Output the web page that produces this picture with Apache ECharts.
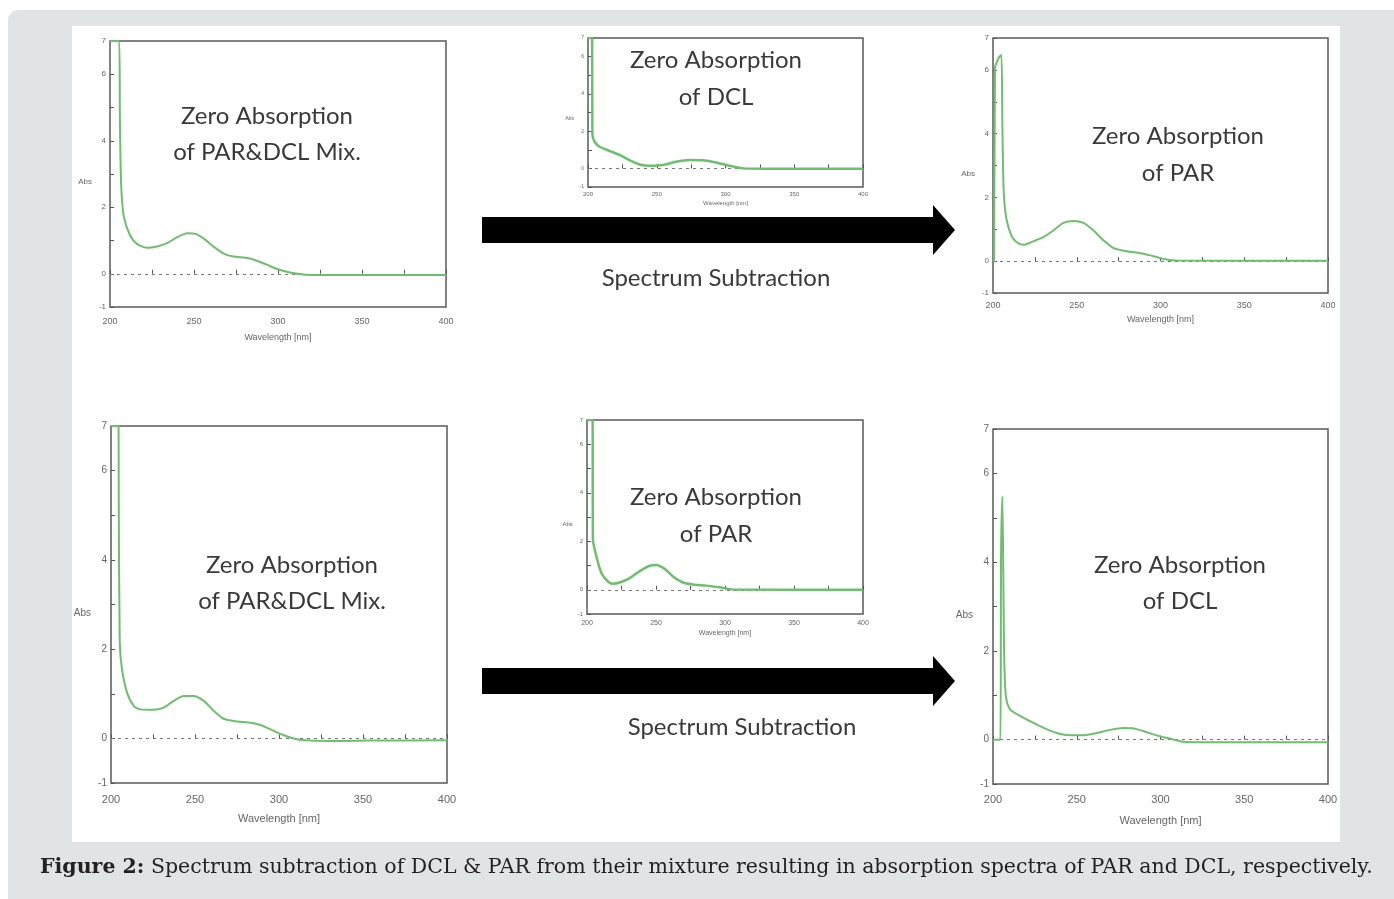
<!DOCTYPE html>
<html><head><meta charset="utf-8">
<script src="https://cdn.jsdelivr.net/npm/echarts@6/dist/echarts.min.js"></script>
<style>html,body{margin:0;padding:0;background:#fff}#c{width:1394px;height:899px}</style>
</head><body><div id="c"></div>
<script>
// Wavelength [nm], Abs pairs
const mixTop = [[200,7],[205.5,7],[205.9,4.6],[206.7,2.6],[208.3,1.7],[212,1.15],[216,0.9],[222,0.78],[228,0.82],[234,0.92],[240,1.1],[246,1.22],[251,1.2],[256,1.05],[262,0.8],[268,0.6],[273.5,0.52],[281,0.48],[287,0.4],[293,0.28],[299,0.15],[307,0.04],[315,-0.02],[323,-0.04],[360,-0.04],[400,-0.04]];
const dclTop = [[200,7],[203,7],[203.2,1.8],[204.8,1.43],[208.5,1.16],[216,0.93],[223,0.72],[230,0.45],[237.6,0.21],[245,0.14],[254.5,0.18],[264,0.36],[274,0.45],[283.6,0.43],[293,0.32],[303,0.14],[312.7,0],[330,-0.02],[400,-0.02]];
const parTop = [[200,0],[200.6,0.05],[201.2,6.1],[202,6.2],[203.6,6.4],[205,6.47],[205.6,4.26],[206.4,2.17],[208,1.33],[211,0.8],[214,0.6],[218,0.51],[224,0.62],[230,0.75],[236,0.96],[242,1.2],[248,1.26],[254,1.2],[260,0.96],[266,0.65],[272,0.41],[280,0.31],[288,0.25],[294,0.18],[302,0.07],[310,0.02],[400,0.01]];
const mixBottom = [[200,7],[204.5,7],[204.6,5.5],[205.2,2.16],[206.5,1.56],[209.5,1.03],[213.5,0.73],[217.5,0.65],[225.4,0.64],[231.3,0.69],[237.3,0.84],[243.3,0.95],[249.2,0.95],[255.2,0.84],[261,0.62],[267,0.44],[275,0.38],[283,0.35],[289,0.3],[295,0.2],[302.8,0.07],[310.7,-0.02],[318.7,-0.05],[334.5,-0.06],[354,-0.05],[400,-0.04]];
const parBottom = [[200,7],[204,7],[204.3,2.07],[206.8,1.38],[210.4,0.69],[215.2,0.34],[218.8,0.25],[223.7,0.3],[231,0.48],[238,0.76],[245.4,0.99],[250.2,1.02],[256.3,0.86],[262.3,0.55],[269.6,0.3],[276.8,0.22],[286.5,0.17],[296,0.1],[305.8,0.01],[400,0]];
const dclBottom = [[200,0],[204.4,0],[204.8,4.15],[205.6,5.48],[206.6,2.08],[207.6,1.0],[210,0.69],[214,0.58],[222,0.42],[230,0.27],[238,0.15],[246,0.1],[254,0.1],[262,0.15],[270,0.22],[278,0.26],[284,0.25],[290,0.19],[298,0.09],[306,0.02],[313.7,-0.05],[323.6,-0.06],[400,-0.06]];

const seriesData = [mixTop, dclTop, parTop, mixBottom, parBottom, dclBottom];
const panelTitles = [
  ['Zero Absorption','of PAR&DCL Mix.'],
  ['Zero Absorption','of DCL'],
  ['Zero Absorption','of PAR'],
  ['Zero Absorption','of PAR&DCL Mix.'],
  ['Zero Absorption','of PAR'],
  ['Zero Absorption','of DCL']
];
const xTickLabels = [200,250,300,350,400];
const yTickLabels = [-1,0,2,4,6,7];
const arrowText = 'Spectrum Subtraction';
const captionBold = 'Figure 2:';
const captionText = ' Spectrum subtraction of DCL & PAR from their mixture resulting in absorption spectra of PAR and DCL, respectively.';

// layout
const grids = [
  {left:110, top:41, width:336, height:266, fs:9, margin:10, nameGap:26, yGap:18, lw:2},
  {left:588, top:38, width:275, height:149, fs:6, margin:4, nameGap:13, yGap:14, lw:2.5},
  {left:993, top:38, width:335, height:255, fs:9, margin:8, nameGap:22, yGap:18, lw:2},
  {left:111, top:426, width:336, height:357, fs:11, margin:11, nameGap:30, yGap:20, lw:2},
  {left:587, top:420, width:276, height:194, fs:7, margin:6, nameGap:16, yGap:14, lw:2.5},
  {left:993, top:429, width:335, height:355, fs:11, margin:10, nameGap:31, yGap:20, lw:2}
];
const titlePos = [[267,116,152],[716,60,97],[1178,136,173],[292,565,601],[716,497,534],[1180,565,601]];

const green = '#6cc06c';
const option = {
  animation:false,
  backgroundColor:'#ffffff',
  grid: grids.map(g=>({left:g.left, top:g.top, width:g.width, height:g.height, show:true, borderColor:'#5a5a5a', borderWidth:1.5, backgroundColor:'transparent', containLabel:false})),
  xAxis: grids.map((g,i)=>({
    gridIndex:i, type:'value', min:200, max:400, interval:25,
    name:'Wavelength [nm]', nameLocation:'middle', nameGap:g.nameGap,
    nameTextStyle:{fontSize:g.fs, color:'#666', fontFamily:'Liberation Sans'},
    axisLine:{show:false}, splitLine:{show:false},
    axisTick:{show:true, inside:true, length:4, lineStyle:{color:'#555'}},
    axisLabel:{fontSize:g.fs, color:'#666', margin:g.margin, fontFamily:'Liberation Sans',
      formatter:v=>xTickLabels.includes(v)?String(v):''}
  })),
  yAxis: grids.map((g,i)=>({
    gridIndex:i, type:'value', min:-1, max:7, interval:1,
    name:'Abs', nameLocation:'middle', nameRotate:0, nameGap:g.yGap,
    nameTextStyle:{fontSize:g.fs-1, color:'#666', fontFamily:'Liberation Sans', verticalAlign:'top', padding:[4,0,0,0]},
    axisLine:{show:false}, splitLine:{show:false},
    axisTick:{show:true, inside:true, length:4, lineStyle:{color:'#555'}},
    axisLabel:{fontSize:g.fs-1, color:'#666', margin:4, fontFamily:'Liberation Sans',
      formatter:v=>yTickLabels.includes(v)?String(v):''}
  })),
  series: seriesData.map((d,i)=>({
    type:'line', xAxisIndex:i, yAxisIndex:i, data:d, showSymbol:false, smooth:0.25,
    clip:true, lineStyle:{color:green, width:grids[i].lw}, z:3,
    markLine:{silent:true, symbol:'none', label:{show:false},
      lineStyle:{color:'#777', type:[3,4], width:1}, data:[{yAxis:0}], z:2}
  })),
  graphic: []
};

// background frame
option.graphic.push({type:'rect', z:-10, silent:true, shape:{x:8,y:10,width:1400,height:900,r:10}, style:{fill:'#e1e4e5'}});
option.graphic.push({type:'rect', z:-9, silent:true, shape:{x:72,y:26,width:1268,height:816}, style:{fill:'#ffffff'}});

// panel titles
titlePos.forEach((p,i)=>{
  option.graphic.push({type:'text', z:10, silent:true, style:{text:panelTitles[i][0], x:p[0], y:p[1], textAlign:'center', textVerticalAlign:'middle', font:'24px Lato', fill:'#3a3a3a'}});
  option.graphic.push({type:'text', z:10, silent:true, style:{text:panelTitles[i][1], x:p[0], y:p[2], textAlign:'center', textVerticalAlign:'middle', font:'24px Lato', fill:'#3a3a3a'}});
});

// arrows
function arrow(y0){
  return {type:'polygon', z:5, silent:true, shape:{points:[[482,y0-13],[933,y0-13],[933,y0-25],[955,y0],[933,y0+25],[933,y0+13],[482,y0+13]]}, style:{fill:'#000'}};
}
option.graphic.push(arrow(230));
option.graphic.push(arrow(681));
option.graphic.push({type:'text', z:10, silent:true, style:{text:arrowText, x:716, y:278, textAlign:'center', textVerticalAlign:'middle', font:'24px Lato', fill:'#3a3a3a'}});
option.graphic.push({type:'text', z:10, silent:true, style:{text:arrowText, x:742, y:727, textAlign:'center', textVerticalAlign:'middle', font:'24px Lato', fill:'#3a3a3a'}});

// caption
option.graphic.push({type:'text', z:10, silent:true, style:{
  text:'{b|'+captionBold+'}{n|'+captionText+'}', x:40, y:868, textVerticalAlign:'middle',
  rich:{b:{fontFamily:'DejaVu Serif', fontWeight:'bold', fontSize:20.5, fill:'#222'},
        n:{fontFamily:'DejaVu Serif', fontSize:20.5, fill:'#222'}}
}});

const chart = echarts.init(document.getElementById('c'), null, {renderer:'canvas'});
chart.setOption(option);
</script>
</body></html>
